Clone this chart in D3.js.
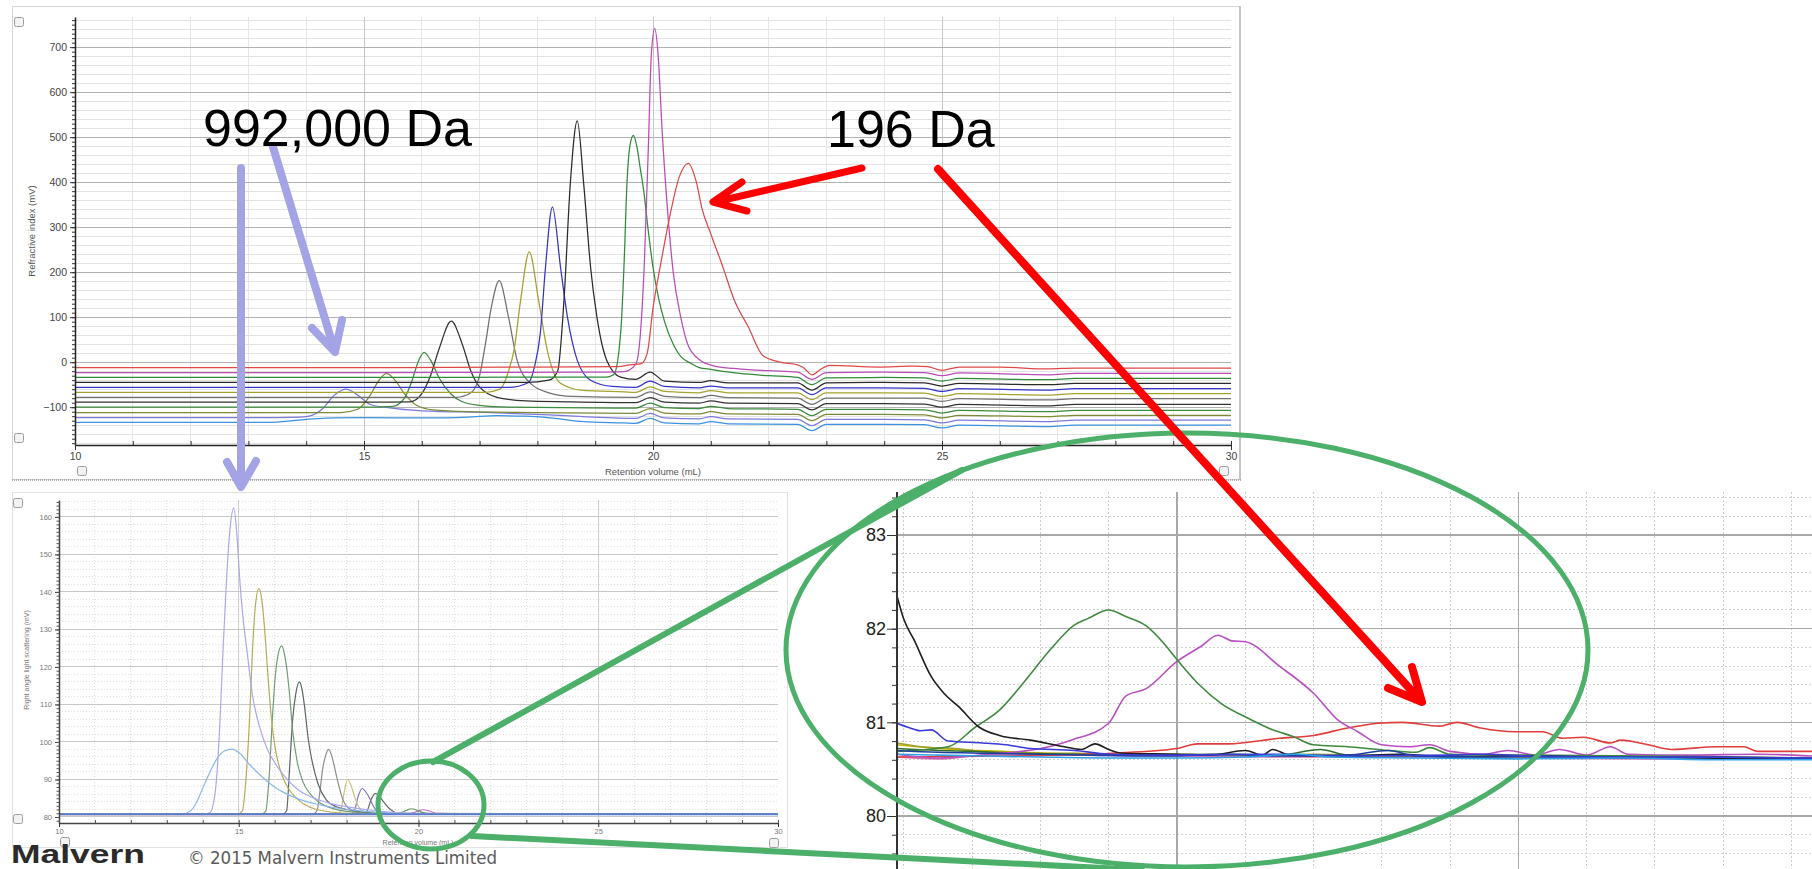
<!DOCTYPE html>
<html>
<head>
<meta charset="utf-8">
<title>SEC chromatograms</title>
<script src="https://cdn.jsdelivr.net/npm/d3@7"></script>
<style>
  html, body { margin: 0; padding: 0; background: #fff; }
  svg { display: block; }
</style>
</head>
<body>
<svg id="chart" width="1812" height="869"></svg>
<script>
// ---------- data: refractive index traces [retention volume (mL), mV] ----------
const riRed = [[10,-12],[14,-12],[18,-11],[19.4,-10],[19.6,-6],[19.8,-3],[19.9,20],[20.0,120],[20.15,230],[20.3,330],[20.45,410],[20.61,442],[20.75,400],[20.85,340],[21.0,285],[21.2,215],[21.4,140],[21.65,78],[21.9,15],[22.2,0],[22.5,-6],[22.6,-12],[22.75,-28],[22.9,-16],[23.05,-7],[23.9,-11],[24.5,-9],[24.75,-10],[25.0,-18],[25.3,-11],[26.0,-11],[26.83,-15],[27.3,-13],[30,-13]];
const riMagenta = [[10,-23],[15,-23],[19.0,-22],[19.5,-21],[19.7,-5],[19.78,60],[19.85,220],[19.92,480],[19.97,680],[20.03,742],[20.09,680],[20.16,509],[20.25,340],[20.35,200],[20.48,100],[20.6,40],[20.8,6],[21.05,-8],[21.4,-14],[22.0,-19],[22.5,-22],[22.75,-38],[23.0,-23],[24.0,-22],[24.7,-23],[25.0,-30],[25.3,-24],[26.85,-28],[27.3,-25],[30,-25]];
const riGreen = [[10,-34],[15,-34],[18.5,-33],[19.2,-33],[19.32,-28],[19.44,64],[19.5,220],[19.55,398],[19.6,480],[19.66,504],[19.72,480],[19.78,430],[19.84,380],[19.92,290],[20.0,211],[20.1,140],[20.2,90],[20.35,40],[20.5,10],[20.65,-2],[20.8,-12],[21.0,-16],[21.5,-25],[22.0,-30],[22.5,-34],[22.75,-50],[23.0,-35],[24.0,-34],[24.7,-35],[25.0,-42],[25.3,-36],[26.85,-39],[27.3,-36],[30,-36]];
const riBlack = [[10,-45],[15,-45],[17.8,-45],[18.2,-40],[18.35,-20],[18.46,138],[18.57,398],[18.69,536],[18.8,398],[18.92,211],[19.03,100],[19.2,4],[19.44,-33],[19.7,-38],[19.95,-22],[20.2,-42],[20.8,-45],[21.0,-41],[21.3,-46],[22.5,-46],[22.75,-62],[23.0,-46],[24.0,-45],[24.7,-46],[25.0,-53],[25.3,-47],[26.85,-50],[27.3,-47],[30,-47]];
const riBlue = [[10,-56],[15,-56],[17.5,-56],[17.85,-45],[17.95,-10],[18.05,64],[18.14,211],[18.26,345],[18.4,211],[18.52,100],[18.69,4],[18.92,-40],[19.3,-54],[19.7,-56],[19.95,-42],[20.2,-54],[20.8,-57],[21.0,-53],[21.3,-57],[22.5,-57],[22.75,-72],[23.0,-57],[24.0,-57],[24.7,-58],[25.0,-65],[25.3,-59],[26.85,-62],[27.3,-59],[30,-59]];
const riOlive = [[10,-67],[15,-67],[17.1,-67],[17.35,-60],[17.5,-20],[17.6,30],[17.71,138],[17.86,245],[18.02,138],[18.17,27],[18.4,-47],[18.75,-62],[19.5,-66],[19.7,-67],[19.95,-55],[20.2,-65],[20.8,-68],[21.0,-63],[21.3,-68],[22.5,-68],[22.75,-83],[23.0,-68],[24.0,-68],[24.7,-69],[25.0,-76],[25.3,-70],[26.85,-73],[27.3,-70],[30,-70]];
const riGray = [[10,-78],[15,-78],[16.6,-78],[16.85,-68],[17.0,-30],[17.1,40],[17.2,120],[17.34,181],[17.5,100],[17.65,4],[17.88,-47],[18.2,-68],[18.6,-76],[19.7,-78],[19.95,-66],[20.2,-76],[20.8,-79],[21.0,-74],[21.3,-79],[22.5,-80],[22.75,-94],[23.0,-80],[24.0,-80],[24.7,-80],[25.0,-87],[25.3,-81],[26.85,-84],[27.3,-81],[30,-81]];
const riBlack2 = [[10,-89],[15,-89],[15.8,-88],[16.0,-70],[16.15,-30],[16.3,30],[16.51,91],[16.7,40],[16.85,-20],[17.0,-55],[17.3,-78],[17.8,-86],[18.5,-88],[19.7,-90],[19.95,-79],[20.2,-89],[20.8,-91],[21.0,-86],[21.3,-91],[22.5,-92],[22.75,-106],[23.0,-92],[24.0,-92],[24.7,-93],[25.0,-100],[25.3,-94],[26.85,-97],[27.3,-94],[30,-94]];
const riGreen2 = [[10,-100],[15,-100],[15.5,-98],[15.7,-80],[15.82,-45],[15.95,5],[16.04,22],[16.15,5],[16.3,-35],[16.5,-70],[16.7,-88],[17.0,-96],[17.5,-100],[19.7,-102],[19.95,-91],[20.2,-101],[20.8,-103],[21.0,-98],[21.3,-103],[22.5,-105],[22.75,-119],[23.0,-105],[24.0,-105],[24.7,-106],[25.0,-113],[25.3,-107],[26.85,-110],[27.3,-107],[30,-107]];
const riOliveGreen = [[10,-112],[14.6,-112],[14.9,-104],[15.1,-75],[15.25,-42],[15.39,-25],[15.55,-42],[15.7,-70],[15.9,-95],[16.2,-106],[16.8,-110],[18,-112],[19.7,-114],[19.95,-103],[20.2,-113],[20.8,-115],[21.0,-110],[21.3,-115],[22.5,-116],[22.75,-130],[23.0,-116],[24.0,-116],[24.7,-117],[25.0,-124],[25.3,-118],[26.85,-121],[27.3,-118],[30,-118]];
const riLavender = [[10,-123],[13.5,-123],[13.9,-122],[14.1,-118],[14.27,-105],[14.5,-72],[14.69,-60],[14.88,-72],[15.11,-94],[15.42,-101],[16.0,-108],[17.2,-112],[18.2,-117],[18.8,-121],[19.7,-125],[19.95,-114],[20.2,-124],[20.8,-126],[21.0,-121],[21.3,-126],[22.5,-127],[22.75,-141],[23.0,-127],[24.0,-127],[24.7,-128],[25.0,-135],[25.3,-129],[26.85,-132],[27.3,-129],[30,-129]];
const riLightBlue = [[10,-134],[13.2,-134],[13.6,-132],[14.0,-127],[14.5,-124],[15.0,-123],[16.0,-124],[16.8,-122],[17.3,-119],[17.8,-120],[18.3,-125],[18.8,-132],[19.5,-135],[19.7,-136],[19.95,-125],[20.2,-135],[20.8,-137],[21.0,-132],[21.3,-137],[22.5,-138],[22.75,-152],[23.0,-138],[24.0,-138],[24.7,-139],[25.0,-146],[25.3,-140],[26.85,-143],[27.3,-140],[30,-140]];

// ---------- data: right angle light scattering traces [mL, mV] ----------
const lsLavender = [[10,80.7],[14.0,80.7],[14.2,81.2],[14.35,87],[14.47,104],[14.57,126],[14.67,145],[14.77,158],[14.86,162.4],[14.95,155],[15.03,143],[15.12,133],[15.22,125],[15.39,112],[15.58,104],[15.78,98.4],[16.0,94.5],[16.22,91.5],[16.69,87],[17.1,85],[17.6,83.5],[18.55,82],[19.5,81.1],[20.5,80.8],[30,80.7]];
const lsLightBlue = [[10,80.7],[13.4,80.7],[13.64,81.5],[13.82,83.8],[14.0,87.7],[14.2,92],[14.39,95.5],[14.6,97.6],[14.8,98.1],[15.05,96.8],[15.3,94],[15.55,91.6],[15.78,89.6],[16.0,88],[16.22,86.7],[16.69,84.7],[17.1,83.6],[17.6,82.6],[18.55,81.5],[19.5,80.9],[20.5,80.75],[30,80.7]];
const lsOlive = [[10,80.7],[14.95,80.7],[15.1,81.6],[15.2,90],[15.3,106],[15.38,124],[15.46,136],[15.56,140.9],[15.64,138],[15.72,130],[15.81,118],[15.9,107],[16.02,98],[16.14,93],[16.3,89],[16.5,86],[16.8,83.5],[17.16,82],[18,81],[19,80.8],[30,80.7]];
const lsGreen = [[10,80.7],[15.6,80.7],[15.75,81.5],[15.84,90],[15.94,107],[16.02,118],[16.08,122.5],[16.19,125.6],[16.27,123.5],[16.33,120],[16.42,112],[16.5,103],[16.62,95],[16.78,89.5],[17.0,86],[17.25,83.8],[17.6,82.3],[18,81.5],[19,80.9],[30,80.7]];
const lsDark = [[10,80.7],[16.2,80.7],[16.33,81.6],[16.42,94],[16.5,106],[16.58,112.5],[16.69,116],[16.76,114],[16.83,109.5],[16.93,101],[17.06,94],[17.2,89],[17.44,84.5],[17.7,82.8],[18,82],[19,81],[30,80.7]];
const lsGray = [[10,80.7],[17.05,80.7],[17.18,81.8],[17.26,87],[17.33,92.5],[17.42,96.5],[17.5,98],[17.58,96.5],[17.67,93],[17.78,88.5],[17.9,84.5],[18.05,82.4],[18.3,81.4],[19,80.9],[30,80.7]];
const lsKhaki = [[10,80.7],[17.72,80.7],[17.84,81.8],[17.93,86.5],[18.03,90],[18.12,88.5],[18.22,85.5],[18.32,83],[18.45,81.6],[19,80.9],[30,80.7]];
const lsPurple = [[10,80.7],[18.1,80.7],[18.22,81.8],[18.33,85.8],[18.44,87.6],[18.54,86.6],[18.64,85],[18.74,83],[18.85,81.6],[19.3,80.9],[30,80.7]];
const lsBlack = [[10,80.7],[18.45,80.7],[18.58,81.8],[18.68,84.6],[18.8,86.3],[18.92,85.4],[19.05,83.8],[19.18,82.35],[19.3,81.45],[19.42,80.95],[19.6,80.78],[20,80.7],[30,80.7]];
const lsGreenSmall = [[10,80.7],[19.3,80.75],[19.5,81.15],[19.65,81.7],[19.8,82.2],[19.95,81.85],[20.1,81.25],[20.3,80.9],[20.6,80.74],[30,80.7]];
const lsMagentaSmall = [[10,80.7],[19.6,80.68],[19.8,81.0],[20.0,81.65],[20.12,81.93],[20.3,81.6],[20.47,81.0],[20.7,80.75],[30,80.7]];
const lsRedSmall = [[10,80.65],[19.8,80.67],[20.3,80.83],[20.6,81.0],[21.0,80.9],[21.4,80.76],[21.9,80.68],[30,80.68]];
const lsBaseline = [[10,80.75],[15,80.74],[20,80.7],[25,80.7],[30,80.7]];

// ---------- data: magnified light scattering, 19.2 - 21.9 mL ----------
const zmRed = [[19.18,80.63],[19.5,80.64],[19.81,80.67],[20.0,80.72],[20.06,80.77],[20.15,80.77],[20.3,80.83],[20.4,80.86],[20.5,80.94],[20.59,80.99],[20.66,81.0],[20.77,80.96],[20.82,81.0],[20.89,80.94],[20.99,80.9],[21.07,80.9],[21.13,80.83],[21.19,80.84],[21.27,80.78],[21.3,80.81],[21.38,80.76],[21.45,80.71],[21.58,80.74],[21.66,80.74],[21.7,80.69],[21.86,80.69]];
const zmMagenta = [[19.18,80.66],[19.3,80.62],[19.45,80.66],[19.6,80.72],[19.69,80.81],[19.8,80.99],[19.85,81.28],[19.91,81.36],[20.0,81.65],[20.07,81.81],[20.12,81.93],[20.16,81.87],[20.2,81.86],[20.3,81.6],[20.4,81.31],[20.47,81.03],[20.53,80.9],[20.6,80.76],[20.68,80.74],[20.74,80.76],[20.8,80.69],[20.9,80.66],[20.97,80.7],[21.05,80.65],[21.12,80.71],[21.2,80.65],[21.27,80.74],[21.32,80.66],[21.5,80.65],[21.7,80.66],[21.86,80.64]];
const zmGreen = [[19.18,80.69],[19.33,80.74],[19.41,80.95],[19.48,81.13],[19.55,81.42],[19.63,81.78],[19.7,82.04],[19.74,82.11],[19.8,82.2],[19.85,82.13],[19.91,82.03],[19.96,81.85],[20.0,81.67],[20.06,81.42],[20.13,81.2],[20.21,81.04],[20.28,80.92],[20.34,80.85],[20.4,80.76],[20.5,80.74],[20.59,80.71],[20.7,80.68],[20.74,80.73],[20.8,80.66],[21.0,80.65],[21.4,80.64],[21.86,80.62]];
const zmBlack = [[19.18,82.35],[19.2,82.1],[19.23,81.88],[19.28,81.49],[19.32,81.3],[19.36,81.17],[19.42,80.95],[19.48,80.86],[19.57,80.81],[19.67,80.74],[19.72,80.71],[19.76,80.77],[19.8,80.71],[19.84,80.67],[20.0,80.66],[20.1,80.65],[20.2,80.7],[20.25,80.65],[20.28,80.71],[20.33,80.65],[20.5,80.64],[20.65,80.66],[20.8,80.63],[21.0,80.64],[21.2,80.63],[21.5,80.62],[21.86,80.61]];
const zmBlue = [[19.18,80.99],[19.21,80.95],[19.25,80.91],[19.28,80.92],[19.33,80.8],[19.43,80.78],[19.5,80.76],[19.57,80.72],[19.7,80.7],[19.8,80.66],[20.0,80.65],[20.3,80.66],[20.5,80.64],[20.8,80.65],[20.9,80.66],[21.1,80.63],[21.4,80.63],[21.86,80.62]];
const zmOlive = [[19.18,80.78],[19.25,80.74],[19.35,80.72],[19.45,80.68],[19.55,80.66],[19.7,80.67],[19.85,80.65],[20.0,80.66],[20.2,80.64],[20.4,80.66],[20.6,80.64],[20.8,80.63],[21.0,80.64],[21.2,80.62],[21.4,80.63],[21.6,80.61],[21.86,80.62]];
const zmLightBlue = [[19.18,80.66],[19.3,80.65],[19.45,80.64],[19.6,80.63],[19.8,80.62],[20.0,80.62],[20.2,80.63],[20.35,80.66],[20.45,80.63],[20.7,80.62],[21.0,80.61],[21.3,80.62],[21.6,80.6],[21.86,80.6]];
const zmNavy = [[19.18,80.7],[19.3,80.68],[19.45,80.67],[19.6,80.66],[19.75,80.65],[19.95,80.64],[20.15,80.66],[20.3,80.64],[20.5,80.65],[20.62,80.7],[20.7,80.64],[20.9,80.63],[21.1,80.64],[21.3,80.62],[21.55,80.63],[21.86,80.61]];
const zmDarkGreen = [[19.18,80.72],[19.3,80.7],[19.4,80.69],[19.55,80.67],[19.7,80.66],[19.9,80.65],[20.1,80.66],[20.3,80.65],[20.42,80.71],[20.5,80.65],[20.8,80.64],[21.1,80.63],[21.4,80.63],[21.86,80.62]];
const zmPink = [[19.18,80.63],[19.3,80.61],[19.4,80.64],[19.55,80.66],[19.7,80.65],[20.0,80.64],[20.3,80.63],[20.6,80.63],[21.0,80.62],[21.4,80.61],[21.86,80.61]];
const zmYellow = [[19.18,80.76],[19.3,80.72],[19.42,80.7],[19.55,80.68],[19.8,80.66],[20.1,80.65],[20.5,80.64],[21.0,80.63],[21.86,80.62]];

// ---------- tick labels ----------
const volTicks = [10, 15, 20, 25, 30];
const riYTicks = [-100, 0, 100, 200, 300, 400, 500, 600, 700];
const lsYTicks = [80, 90, 100, 110, 120, 130, 140, 150, 160];
const zmYTicks = [80, 81, 82, 83];
const zmXMajor = [20, 21];

// ---------- series styles ----------
const riSeries = [
  { data: riLightBlue, color: "#3a92e0" },
  { data: riLavender, color: "#7a7adc" },
  { data: riOliveGreen, color: "#7c8a36" },
  { data: riGreen2, color: "#3c8a3c" },
  { data: riBlack2, color: "#333333" },
  { data: riGray, color: "#707070" },
  { data: riOlive, color: "#a3a32e" },
  { data: riBlue, color: "#3434c8" },
  { data: riBlack, color: "#2a2a2a" },
  { data: riGreen, color: "#2f8a3a" },
  { data: riMagenta, color: "#b84cb8" },
  { data: riRed, color: "#e04848" }
];
const lsSeries = [
  { data: lsRedSmall, color: "#e08080" },
  { data: lsMagentaSmall, color: "#c477c4" },
  { data: lsGreenSmall, color: "#6a9a6a" },
  { data: lsBlack, color: "#666666" },
  { data: lsPurple, color: "#8474cc" },
  { data: lsKhaki, color: "#c9c27a" },
  { data: lsGray, color: "#8c8c8c" },
  { data: lsDark, color: "#5a6464" },
  { data: lsGreen, color: "#739c73" },
  { data: lsOlive, color: "#b3ab5a" },
  { data: lsLightBlue, color: "#8ab8ec" },
  { data: lsLavender, color: "#a9a9ec" },
  { data: lsBaseline, color: "#5a7ccc", width: 2 }
];
const zmSeries = [
  { data: zmYellow, color: "#c8b400" },
  { data: zmOlive, color: "#a0a030" },
  { data: zmPink, color: "#d070b0" },
  { data: zmDarkGreen, color: "#2d6e2d" },
  { data: zmRed, color: "#e03c3c" },
  { data: zmMagenta, color: "#b84fc0" },
  { data: zmGreen, color: "#3f8a3f" },
  { data: zmBlack, color: "#1e1e1e" },
  { data: zmNavy, color: "#1f3fa0" },
  { data: zmBlue, color: "#3a3ad8" },
  { data: zmLightBlue, color: "#2ea0e8" }
];

const FONT = "'Liberation Sans', Arial, sans-serif";
const svg = d3.select("#chart");
const defs = svg.append("defs");

function clipRect(id, x, y, w, h) {
  defs.append("clipPath").attr("id", id)
    .append("rect").attr("x", x).attr("y", y).attr("width", w).attr("height", h);
  return `url(#${id})`;
}

function vGrid(g, vals, x, y1, y2, color, width, dash) {
  g.append("g").selectAll("line").data(vals).join("line")
    .attr("x1", d => x(d)).attr("x2", d => x(d))
    .attr("y1", y1).attr("y2", y2)
    .attr("stroke", color).attr("stroke-width", width)
    .attr("stroke-dasharray", dash || null)
    .attr("shape-rendering", "crispEdges");
}
function hGrid(g, vals, y, x1, x2, color, width, dash) {
  g.append("g").selectAll("line").data(vals).join("line")
    .attr("y1", d => y(d)).attr("y2", d => y(d))
    .attr("x1", x1).attr("x2", x2)
    .attr("stroke", color).attr("stroke-width", width)
    .attr("stroke-dasharray", dash || null)
    .attr("shape-rendering", "crispEdges");
}
function drawSeries(g, series, x, y, clip, width) {
  const line = d3.line().x(d => x(d[0])).y(d => y(d[1])).curve(d3.curveMonotoneX);
  g.append("g").attr("clip-path", clip)
    .selectAll("path").data(series).join("path")
    .attr("d", d => line(d.data))
    .attr("fill", "none")
    .attr("stroke", d => d.color)
    .attr("stroke-width", d => d.width || width)
    .attr("stroke-linejoin", "round");
}
function checkbox(g, cx, cy) {
  g.append("rect").attr("x", cx - 4.5).attr("y", cy - 4.5)
    .attr("width", 9).attr("height", 9).attr("rx", 2)
    .attr("fill", "#f2f2f2").attr("stroke", "#9c9c9c").attr("stroke-width", 1);
}
function styleAxis(sel, size, color) {
  sel.attr("font-family", FONT).attr("font-size", size);
  sel.selectAll("text").attr("fill", color);
  sel.selectAll("line").attr("stroke", "#333");
}

// ================= top panel: refractive index =================
const riX = d3.scaleLinear().domain([10, 30]).range([75, 1231]);
const riY = d3.scaleLinear().domain([-184, 767]).range([445, 17]);
const riG = svg.append("g");

riG.append("rect").attr("x", 12.5).attr("y", 6.5).attr("width", 1227).attr("height", 473)
  .attr("fill", "#fff").attr("stroke", "#d6d6d6");
riG.append("line").attr("x1", 1240).attr("x2", 1240).attr("y1", 6).attr("y2", 480)
  .attr("stroke", "#c4c4c4").attr("stroke-width", 2);
riG.append("line").attr("x1", 12).attr("x2", 1241).attr("y1", 480).attr("y2", 480)
  .attr("stroke", "#9a9a9a").attr("stroke-width", 1.5).attr("stroke-dasharray", "1,1");

vGrid(riG, d3.range(11, 30, 1).filter(v => v % 5), riX, 17, 445, "#e6e6e6", 1);
hGrid(riG, d3.range(-180, 761, 20).filter(v => v % 100), riY, 75, 1231, "#e3e3e3", 1);
vGrid(riG, [15, 20, 25], riX, 17, 445, "#c6c6c6", 1);
hGrid(riG, riYTicks, riY, 75, 1231, "#b2b2b2", 1);

drawSeries(riG, riSeries, riX, riY, clipRect("riClip", 75, 17, 1156, 428), 1.25);

const riYAxis = riG.append("g").attr("transform", "translate(75,0)")
  .call(d3.axisLeft(riY).tickValues(riYTicks).tickSize(5).tickPadding(3).tickSizeOuter(0));
styleAxis(riYAxis, 10.5, "#444");
riYAxis.select(".domain").attr("stroke", "#222").attr("stroke-width", 1.5);
riG.append("g").attr("transform", "translate(75,0)")
  .call(d3.axisLeft(riY).tickValues(d3.range(-180, 770, 10)).tickSize(3).tickFormat("").tickSizeOuter(0))
  .call(s => { s.select(".domain").remove(); s.selectAll("line").attr("stroke", "#333"); });

const riXAxis = riG.append("g").attr("transform", "translate(0,445)")
  .call(d3.axisBottom(riX).tickValues(volTicks).tickSize(5).tickPadding(3).tickSizeOuter(0));
styleAxis(riXAxis, 10.5, "#444");
riXAxis.select(".domain").attr("stroke", "#222").attr("stroke-width", 1.5);
riG.append("g").attr("transform", "translate(0,445)")
  .call(d3.axisBottom(riX).tickValues(d3.range(10, 30.01, 1)).tickSize(-4).tickFormat("").tickSizeOuter(0))
  .call(s => { s.select(".domain").remove(); s.selectAll("line").attr("stroke", "#333"); });

riG.append("text").attr("transform", "translate(35,231) rotate(-90)")
  .attr("text-anchor", "middle").attr("font-family", FONT).attr("font-size", 9.5)
  .attr("fill", "#555").text("Refractive index (mV)");
riG.append("text").attr("x", 653).attr("y", 475)
  .attr("text-anchor", "middle").attr("font-family", FONT).attr("font-size", 9.5)
  .attr("fill", "#555").text("Retention volume (mL)");
[[19, 22], [19, 438], [82, 471], [1224, 471]].forEach(p => checkbox(riG, p[0], p[1]));

// ================= bottom-left panel: light scattering =================
const lsX = d3.scaleLinear().domain([10, 30]).range([59, 778]);
const lsY = d3.scaleLinear().domain([78.4, 164.5]).range([823, 500]);
const lsG = svg.append("g");

lsG.append("rect").attr("x", 12.5).attr("y", 492.5).attr("width", 775).attr("height", 355)
  .attr("fill", "#fff").attr("stroke", "#e2e2e2");

vGrid(lsG, d3.range(11, 30, 1).filter(v => v % 5), lsX, 500, 823, "#dcdcdc", 1, "1,2");
hGrid(lsG, d3.range(82, 165, 2).filter(v => v % 10), lsY, 59, 778, "#e0e0e0", 1, "1,2");
vGrid(lsG, [15, 20, 25], lsX, 500, 823, "#cfcfcf", 1);
hGrid(lsG, lsYTicks, lsY, 59, 778, "#c8c8c8", 1);

drawSeries(lsG, lsSeries, lsX, lsY, clipRect("lsClip", 59, 500, 719, 323), 1.2);

const lsYAxis = lsG.append("g").attr("transform", "translate(59,0)")
  .call(d3.axisLeft(lsY).tickValues(lsYTicks).tickSize(4).tickPadding(3).tickSizeOuter(0));
styleAxis(lsYAxis, 7.5, "#777");
lsYAxis.select(".domain").attr("stroke", "#444").attr("stroke-width", 1.5);
lsG.append("g").attr("transform", "translate(59,0)")
  .call(d3.axisLeft(lsY).tickValues(d3.range(79, 165, 1)).tickSize(2.5).tickFormat("").tickSizeOuter(0))
  .call(s => { s.select(".domain").remove(); s.selectAll("line").attr("stroke", "#555"); });

const lsXAxis = lsG.append("g").attr("transform", "translate(0,823)")
  .call(d3.axisBottom(lsX).tickValues(volTicks).tickSize(4).tickPadding(2).tickSizeOuter(0));
styleAxis(lsXAxis, 7.5, "#777");
lsXAxis.select(".domain").attr("stroke", "#444").attr("stroke-width", 1.5);
lsG.append("g").attr("transform", "translate(0,823)")
  .call(d3.axisBottom(lsX).tickValues(d3.range(10, 30.01, 1)).tickSize(-3).tickFormat("").tickSizeOuter(0))
  .call(s => { s.select(".domain").remove(); s.selectAll("line").attr("stroke", "#555"); });

lsG.append("text").attr("transform", "translate(29,660) rotate(-90)")
  .attr("text-anchor", "middle").attr("font-family", FONT).attr("font-size", 7)
  .attr("fill", "#777").text("Right angle light scattering (mV)");
lsG.append("text").attr("x", 418).attr("y", 845)
  .attr("text-anchor", "middle").attr("font-family", FONT).attr("font-size", 7)
  .attr("fill", "#777").text("Retention volume (mL)");
[[18, 503], [18, 819], [65, 842], [774, 843]].forEach(p => checkbox(lsG, p[0], p[1]));

// ================= bottom-right panel: magnified light scattering =================
const zX = d3.scaleLinear().domain([19.18, 21.86]).range([897, 1812]);
const zY = d3.scaleLinear().domain([80, 83]).range([816, 535]);
const zmG = svg.append("g");

vGrid(zmG, d3.range(19.2, 21.9, 0.2).filter(v => Math.abs(v - 20) > 0.01 && Math.abs(v - 21) > 0.01), zX, 492, 869, "#cdcdcd", 1, "2,2");
hGrid(zmG, d3.range(79.4, 83.5, 0.2).filter(v => Math.abs(v - Math.round(v)) > 0.01), zY, 897, 1812, "#d2d2d2", 1, "2,2");
vGrid(zmG, zmXMajor, zX, 492, 869, "#a8a8a8", 1.5);
hGrid(zmG, zmYTicks, zY, 897, 1812, "#a8a8a8", 1.5);

drawSeries(zmG, zmSeries, zX, zY, clipRect("zmClip", 897, 492, 915, 377), 1.6);

const zYAxis = zmG.append("g").attr("transform", "translate(897,0)")
  .call(d3.axisLeft(zY).tickValues(zmYTicks).tickFormat(d3.format("d"))
    .tickSize(10).tickPadding(1).tickSizeOuter(0));
zYAxis.select(".domain").remove();
styleAxis(zYAxis, 18, "#222");
zmG.append("g").attr("transform", "translate(897,0)")
  .call(d3.axisLeft(zY).tickValues(d3.range(79.6, 83.5, 0.2)).tickSize(5).tickFormat("").tickSizeOuter(0))
  .call(s => { s.select(".domain").remove(); s.selectAll("line").attr("stroke", "#333"); });
zmG.append("line").attr("x1", 897).attr("x2", 897).attr("y1", 492).attr("y2", 869)
  .attr("stroke", "#333").attr("stroke-width", 2);

// ================= annotations =================
const ann = svg.append("g").attr("fill", "none")
  .attr("stroke-linecap", "round").attr("stroke-linejoin", "round");

// green magnifier
const GREEN = "#4caf6a";
ann.append("ellipse").attr("cx", 1187).attr("cy", 650).attr("rx", 401).attr("ry", 217)
  .attr("stroke", GREEN).attr("stroke-width", 5);
ann.append("ellipse").attr("cx", 431).attr("cy", 805).attr("rx", 53).attr("ry", 44)
  .attr("stroke", GREEN).attr("stroke-width", 5);
ann.append("line").attr("x1", 433).attr("y1", 762).attr("x2", 962).attr("y2", 470)
  .attr("stroke", GREEN).attr("stroke-width", 6);
ann.append("line").attr("x1", 472).attr("y1", 836).attr("x2", 1142).attr("y2", 870)
  .attr("stroke", GREEN).attr("stroke-width", 6);

// lavender arrows (992,000 Da)
const LAV = "#a3a3e6";
const lavArrows = ann.append("g").attr("stroke", LAV).attr("stroke-width", 8);
lavArrows.append("path").attr("d", "M241,168 L241,486 M227,462 L241,487 L256,461");
lavArrows.append("path").attr("d", "M273,147 L335,352 M312,328 L335,352 L342,320");

// red arrows (196 Da)
const RED = "#ff0000";
const redArrows = ann.append("g").attr("stroke", RED);
redArrows.append("path").attr("stroke-width", 7)
  .attr("d", "M862,168 L715,202 M742,182 L713,202 L747,211");
redArrows.append("path").attr("stroke-width", 8)
  .attr("d", "M938,169 L1420,700 M1412,667 L1422,702 L1388,688");

// labels
svg.append("text").attr("x", 203).attr("y", 146)
  .attr("font-family", FONT).attr("font-size", 52).attr("fill", "#000").text("992,000 Da");
svg.append("text").attr("x", 827).attr("y", 147)
  .attr("font-family", FONT).attr("font-size", 52).attr("fill", "#000").text("196 Da");

// footer
svg.append("text").attr("x", 11).attr("y", 863)
  .attr("font-family", FONT).attr("font-weight", "bold").attr("font-size", 26)
  .attr("textLength", 134).attr("lengthAdjust", "spacingAndGlyphs")
  .attr("fill", "#2b2b2b").text("Malvern");
svg.append("text").attr("x", 188).attr("y", 864)
  .attr("font-family", "'DejaVu Sans', sans-serif").attr("font-size", 17)
  .attr("textLength", 309).attr("lengthAdjust", "spacingAndGlyphs")
  .attr("fill", "#5a5a5a").text("© 2015 Malvern Instruments Limited");
</script>
</body>
</html>
